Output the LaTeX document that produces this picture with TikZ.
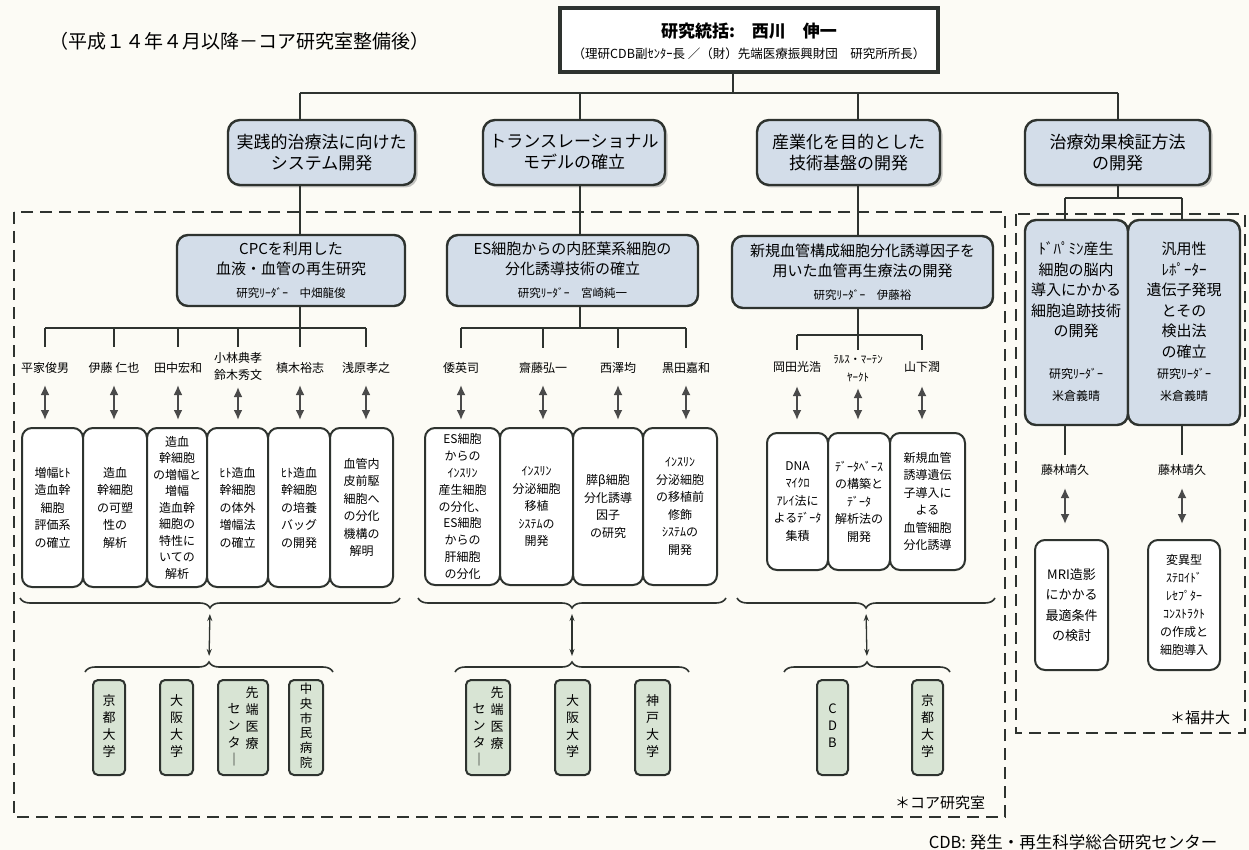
\documentclass[tikz,border=0pt]{standalone}
\usepackage{fontspec}
\usepackage{graphicx}
\setmainfont{Noto Sans CJK JP}
\usetikzlibrary{arrows.meta,decorations.pathreplacing,shadows,calc}
\definecolor{bgc}{HTML}{FCFBF5}
\definecolor{lc}{HTML}{2E332F}
\definecolor{bf}{HTML}{D3DDE9}
\definecolor{gf}{HTML}{D8E4D4}
\definecolor{ac}{HTML}{4A4A4A}
\newcommand\fs[2]{\fontsize{#1}{#2}\selectfont}
\newcommand\vcol[1]{\begin{tabular}[t]{@{}c@{}}#1\end{tabular}}
\newcommand\mybox[7]{\node[#2,minimum width={#5-#3},minimum height={#6-#4}] (#1) at ({(#3+#5)/2},{(#4+#6)/2}) {#7};}
\tikzset{
 conn/.style={draw=lc,line width=1.8pt},
 lvtwo/.style={draw=lc,line width=2.4pt,fill=bf,rounded corners=12pt,align=center,inner sep=0pt,font=\fs{17}{21},
   drop shadow={shadow xshift=2.5pt,shadow yshift=-2.5pt,fill=black!45}},
 lvthree/.style={draw=lc,line width=2.4pt,fill=bf,rounded corners=11pt,align=center,inner sep=0pt,font=\fs{15}{20}},
 wbox/.style={draw=lc,line width=2pt,fill=white,rounded corners=10pt,align=center,inner sep=0pt,font=\fs{12}{17.5}},
 gbox/.style={draw=lc,line width=2pt,fill=gf,rounded corners=5pt,align=center,inner sep=0pt,font=\fs{13}{17}},
 nm/.style={font=\fs{12}{17},align=center,inner sep=0pt},
 dtext/.style={font=\fs{15}{20.5},align=center,inner sep=0pt},
 dbl/.style={draw=ac,line width=1.9pt,{Latex[length=10pt,width=9pt]}-{Latex[length=10pt,width=9pt]}},
 linkarrow/.style={draw=lc,line width=1.3pt,{Stealth[length=7pt,width=5pt]}-{Stealth[length=7pt,width=5pt]},shorten <=6pt,shorten >=6pt},
 brc/.style={draw=lc,line width=1.6pt,decorate,decoration={brace,amplitude=10pt}},
 dashbox/.style={draw=lc,line width=2.4pt,dash pattern=on 12pt off 7pt},
}
\begin{document}
\begin{tikzpicture}[x=1pt,y=-1pt]
\fill[bgc] (0,0) rectangle (1249,850);
\useasboundingbox (0,0) rectangle (1249,850);

% dashed regions
\draw[dashbox] (14,212) rectangle (1005,817);
\draw[dashbox] (1016,214) rectangle (1245,733);

% title
\node[draw=lc,line width=4pt,fill=white,minimum width=378,minimum height=64,inner sep=0pt] (title) at (749,40) {};
\node[font=\fs{17}{20}\bfseries,inner sep=0pt] (tl1) at (749,31) {研究統括:　西川　伸一};
\node[font=\fs{12.5}{15},inner sep=0pt] (tl2) at (749,54) {（理研CDB副ｾﾝﾀｰ長 ／（財）先端医療振興財団　研究所所長）};
\node[font=\fs{19}{22},inner sep=0pt] (cap) at (239,41) {（平成１４年４月以降－コア研究室整備後）};

% level 2
\mybox{b1}{lvtwo}{228}{120}{415}{185}{実践的治療法に向けた\\システム開発}
\mybox{b2}{lvtwo}{483}{120}{665}{185}{トランスレーショナル\\モデルの確立}
\mybox{b3}{lvtwo}{757}{120}{940}{185}{産業化を目的とした\\技術基盤の開発}
\mybox{b4}{lvtwo}{1025}{120}{1210}{185}{治療効果検証方法\\の開発}

\coordinate (tj) at (733,93);
\coordinate (j1) at (300,93);
\coordinate (j2) at (580,93);
\coordinate (j3) at (858,93);
\coordinate (j4) at (1118,93);
\draw[conn] (title.south -| tj) -- (tj);
\draw[conn] (j1) -- (j4);
\foreach \k in {1,2,3,4} \draw[conn] (j\k) -- (b\k.north -| j\k);

% level 3
\mybox{c1}{lvthree}{177}{235}{405}{306}{CPCを利用した\\血液・血管の再生研究\\[3pt]{\fs{11.5}{14}研究ﾘｰﾀﾞｰ　中畑龍俊}}
\mybox{c2}{lvthree}{447}{235}{698}{306}{ES細胞からの内胚葉系細胞の\\分化誘導技術の確立\\[3pt]{\fs{11.5}{14}研究ﾘｰﾀﾞｰ　宮崎純一}}
\mybox{c3}{lvthree}{732}{236}{993}{308}{新規血管構成細胞分化誘導因子を\\用いた血管再生療法の開発\\[3pt]{\fs{11.5}{14}研究ﾘｰﾀﾞｰ　伊藤裕}}
\foreach \k in {1,2,3} \draw[conn] (b\k.south -| j\k) -- (c\k.north -| j\k);

% left group
\coordinate (s1) at (300,328);
\node[nm] (n11) at (45,368) {平家俊男};
\node[nm] (n12) at (114,368) {伊藤 仁也};
\node[nm] (n13) at (178,368) {田中宏和};
\node[nm] (n14) at (238,366) {小林典孝\\鈴木秀文};
\node[nm] (n15) at (300,368) {槙木裕志};
\node[nm] (n16) at (366,368) {浅原孝之};
\draw[conn] (c1.south -| s1) -- (s1);
\draw[conn] (n11 |- s1) -- (n16 |- s1);
\foreach \i in {1,...,6} \draw[conn] (n1\i |- s1) -- ++(0,19);

\mybox{w11}{wbox}{22}{428}{83}{587}{増幅ﾋﾄ\\造血幹\\細胞\\評価系\\の確立}
\mybox{w12}{wbox}{83}{428}{147}{587}{造血\\幹細胞\\の可塑\\性の\\解析}
\mybox{w13}{wbox,font=\fs{12}{16.5}}{147}{428}{207}{587}{造血\\幹細胞\\の増幅と\\増幅\\造血幹\\細胞の\\特性に\\いての\\解析}
\mybox{w14}{wbox}{207}{428}{268}{587}{ﾋﾄ造血\\幹細胞\\の体外\\増幅法\\の確立}
\mybox{w15}{wbox}{268}{428}{330}{587}{ﾋﾄ造血\\幹細胞\\の培養\\バッグ\\の開発}
\mybox{w16}{wbox}{330}{428}{393}{587}{血管内\\皮前駆\\細胞へ\\の分化\\機構の\\解明}
\foreach \i in {1,2,3,5,6} \draw[dbl,shorten >=7pt] ([yshift=-17pt]n1\i.center) -- (n1\i |- w1\i.north);
\draw[dbl,shorten >=7pt] ([yshift=-21pt]n14.center) -- (n14 |- w14.north);

% middle group
\coordinate (s2) at (580,328);
\node[nm] (n21) at (461,368) {倭英司};
\node[nm] (n22) at (543,368) {齋藤弘一};
\node[nm] (n23) at (618,368) {西澤均};
\node[nm] (n24) at (686,368) {黒田嘉和};
\draw[conn] (c2.south -| s2) -- (s2);
\draw[conn] (n21 |- s2) -- (n24 |- s2);
\foreach \i in {1,...,4} \draw[conn] (n2\i |- s2) -- ++(0,20);

\mybox{w21}{wbox,font=\fs{12}{16.8}}{425}{428}{500}{585}{ES細胞\\からの\\ｲﾝｽﾘﾝ\\産生細胞\\の分化、\\ES細胞\\からの\\肝細胞\\の分化}
\mybox{w22}{wbox}{500}{428}{573}{585}{ｲﾝｽﾘﾝ\\分泌細胞\\移植\\ｼｽﾃﾑの\\開発}
\mybox{w23}{wbox}{573}{428}{643}{585}{膵β細胞\\分化誘導\\因子\\の研究}
\mybox{w24}{wbox}{643}{428}{717}{585}{ｲﾝｽﾘﾝ\\分泌細胞\\の移植前\\修飾\\ｼｽﾃﾑの\\開発}
\foreach \i in {1,...,4} \draw[dbl,shorten >=7pt] ([yshift=-17pt]n2\i.center) -- (n2\i |- w2\i.north);

% right group
\coordinate (s3) at (858,335);
\node[nm] (n31) at (797,367) {岡田光浩};
\node[nm,font=\fs{11}{18}] (n32) at (858,369) {ﾗﾙｽ・ﾏｰﾃﾝ\\ﾔｰｸﾄ};
\node[nm] (n33) at (922,367) {山下潤};
\draw[conn] (c3.south -| s3) -- (s3);
\draw[conn] (n31 |- s3) -- (n33 |- s3);
\foreach \i in {1,2,3} \draw[conn] (n3\i |- s3) -- ++(0,15);

\mybox{w31}{wbox}{767}{433}{828}{570}{DNA\\ﾏｲｸﾛ\\ｱﾚｲ法に\\よるﾃﾞｰﾀ\\集積}
\mybox{w32}{wbox}{828}{433}{890}{570}{ﾃﾞｰﾀﾍﾞｰｽ\\の構築と\\ﾃﾞｰﾀ\\解析法の\\開発}
\mybox{w33}{wbox}{890}{433}{965}{570}{新規血管\\誘導遺伝\\子導入に\\よる\\血管細胞\\分化誘導}
\draw[dbl,shorten >=12pt] ([yshift=-19pt]n31.center) -- (n31 |- w31.north);
\draw[dbl,shorten >=12pt] ([yshift=-19pt]n32.center) -- (n32 |- w32.north);
\draw[dbl,shorten >=12pt] ([yshift=-19pt]n33.center) -- (n33 |- w33.north);

% braces and partner institutions
\draw[brc] (400,598) -- (20,598);
\draw[brc] (726,598) -- (418,598);
\draw[brc] (995,598) -- (737,598);
\draw[brc] (85,672) -- (333,672);
\draw[brc] (455,672) -- (689,672);
\draw[brc] (784,672) -- (950,672);
\coordinate (ub1) at (210,608);
\coordinate (ub2) at (572,608);
\coordinate (ub3) at (866,608);
\coordinate (lb1) at (209,662);
\coordinate (lb2) at (572,662);
\coordinate (lb3) at (867,662);
\draw[linkarrow] (ub1) -- (lb1);
\draw[linkarrow] (ub2) -- (lb2);
\draw[linkarrow] (ub3) -- (lb3);

\mybox{g11}{gbox}{93}{680}{125}{775}{\vcol{京\\都\\大\\学}}
\mybox{g12}{gbox}{160}{680}{193}{775}{\vcol{大\\阪\\大\\学}}
\mybox{g13}{gbox}{218}{680}{268}{775}{\raisebox{-16pt}{\vcol{セ\\ン\\タ\\｜}}\hspace{5pt}\vcol{先\\端\\医\\療}}
\mybox{g14}{gbox,font=\fs{12.5}{14.5}}{289}{680}{323}{775}{\vcol{中\\央\\市\\民\\病\\院}}
\mybox{g21}{gbox}{466}{680}{510}{775}{\raisebox{-16pt}{\vcol{セ\\ン\\タ\\｜}}\hspace{5pt}\vcol{先\\端\\医\\療}}
\mybox{g22}{gbox}{555}{680}{590}{775}{\vcol{大\\阪\\大\\学}}
\mybox{g23}{gbox}{635}{680}{670}{775}{\vcol{神\\戸\\大\\学}}
\mybox{g31}{gbox}{817}{680}{848}{775}{\vcol{C\\D\\B}}
\mybox{g32}{gbox}{912}{680}{943}{775}{\vcol{京\\都\\大\\学}}

% far right group
\coordinate (k4) at (1118,198);
\coordinate (k41) at (1065,198);
\coordinate (k42) at (1182,198);
\draw[conn] (b4.south -| k4) -- (k4);
\draw[conn] (k41) -- (k42);
\mybox{d1}{lvthree}{1025}{220}{1128}{425}{}
\mybox{d2}{lvthree}{1128}{220}{1240}{425}{}
\draw[conn] (k41) -- (d1.north -| k41);
\draw[conn] (k42) -- (d2.north -| k42);
\node[dtext,anchor=north] (d1t) at (1076,242) {ﾄﾞﾊﾟﾐﾝ産生\\細胞の脳内\\導入にかかる\\細胞追跡技術\\の開発};
\node[dtext,anchor=north] (d2t) at (1184,242) {汎用性\\ﾚﾎﾟｰﾀｰ\\遺伝子発現\\とその\\検出法\\の確立};
\node[font=\fs{12}{22},align=center,inner sep=0pt] (d1l) at (1076,385) {研究ﾘｰﾀﾞｰ\\米倉義晴};
\node[font=\fs{12}{22},align=center,inner sep=0pt] (d2l) at (1184,385) {研究ﾘｰﾀﾞｰ\\米倉義晴};
\coordinate (m1) at (1065,455);
\coordinate (m2) at (1182,455);
\draw[conn] (d1.south -| m1) -- (m1);
\draw[conn] (d2.south -| m2) -- (m2);
\node[nm] (n51) at (1065,470) {藤林靖久};
\node[nm] (n52) at (1182,470) {藤林靖久};
\mybox{e1}{wbox,font=\fs{13}{20.5}}{1035}{540}{1108}{670}{MRI造影\\にかかる\\最適条件\\の検討}
\mybox{e2}{wbox,font=\fs{12}{18}}{1148}{540}{1220}{670}{変異型\\ｽﾃﾛｲﾄﾞ\\ﾚｾﾌﾟﾀｰ\\ｺﾝｽﾄﾗｸﾄ\\の作成と\\細胞導入}
\draw[dbl,shorten >=15pt] ([yshift=-18pt]n51.center) -- (n51 |- e1.north);
\draw[dbl,shorten >=15pt] ([yshift=-18pt]n52.center) -- (n52 |- e2.north);

% captions
\node[font=\fs{15}{18},inner sep=0pt] (fk) at (1200,718) {＊福井大};
\node[font=\fs{15}{18},inner sep=0pt] (core) at (940,803) {＊コア研究室};
\node[font=\fs{16.5}{19},inner sep=0pt] (cdb) at (1073,842) {CDB: 発生・再生科学総合研究センター};
\end{tikzpicture}
\end{document}
